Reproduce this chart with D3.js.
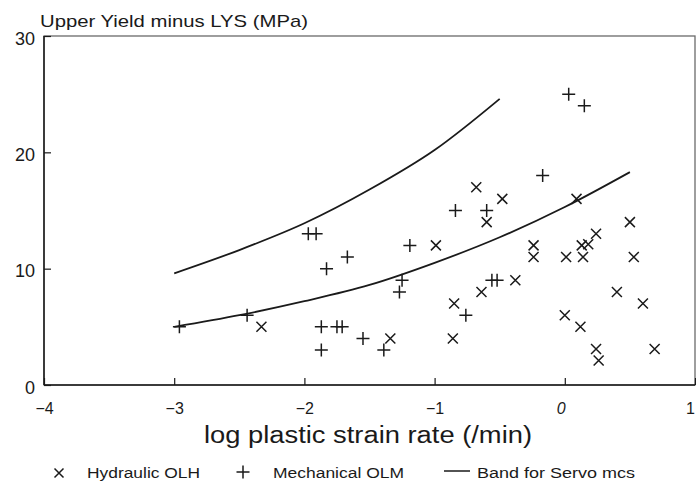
<!DOCTYPE html>
<html>
<head>
<meta charset="utf-8">
<script src="https://cdn.jsdelivr.net/npm/d3@7"></script>
<style>
  html, body { margin: 0; padding: 0; background: #fff; }
  svg { display: block; }
  text { font-family: "Liberation Sans", Arial, sans-serif; fill: #1a1a1a; }
</style>
</head>
<body>
<svg id="chart" width="696" height="484"></svg>
<script>
// ---- data ----
const xTicks = [-4, -3, -2, -1, 0, 1];
const yTicks = [0, 10, 20, 30];

// Hydraulic OLH (x markers): [log strain rate, MPa]
const hydraulicX = [-2.33, -1.34, -0.99, -0.68, -0.60, -0.48, -0.85, -0.86, -0.64, -0.38,
  -0.24, -0.24, 0.01, 0.13, 0.18, 0.14, 0.24, 0.50, 0.53, 0.40, 0.60, 0.00, 0.12, 0.24, 0.26, 0.69, 0.09];
const hydraulicY = [5, 4, 12, 17, 14, 16, 7, 4, 8, 9,
  12, 11, 11, 12, 12.1, 11, 13, 14, 11, 8, 7, 6, 5, 3.1, 2.1, 3.1, 16];

// Mechanical OLM (+ markers)
const mechanicalX = [-2.96, -2.44, -1.97, -1.91, -1.83, -1.67, -1.87, -1.75, -1.71, -1.87,
  -1.55, -1.39, -1.27, -1.25, -1.19, -0.84, -0.60, -0.76, -0.56, -0.52, -0.17, 0.03, 0.15];
const mechanicalY = [5, 6, 13, 13, 10, 11, 5, 5, 5, 3,
  4, 3, 8, 9, 12, 15, 15, 6, 9, 9, 18, 25, 24];

// Band for Servo mcs (two curves)
const bandUpperX = [-3, -2.5, -2, -1.5, -1, -0.5];
const bandUpperY = [9.6, 11.6, 13.9, 16.8, 20.2, 24.6];
const bandLowerX = [-3, -2.5, -2, -1.5, -1, -0.5, 0, 0.5];
const bandLowerY = [5.0, 6.0, 7.2, 8.6, 10.5, 12.7, 15.3, 18.3];

const legendLabels = ["Hydraulic OLH", "Mechanical OLM", "Band for Servo mcs"];

// ---- layout ----
const svg = d3.select("#chart");
const mLeft = 44, mRight = 695, mTop = 36, mBottom = 385;
const x = d3.scaleLinear().domain([-4, 1]).range([mLeft, mRight]);
const y = d3.scaleLinear().domain([0, 30]).range([mBottom, mTop]);
const ink = "#1a1a1a";

// frame
svg.append("rect").attr("x", mLeft).attr("y", mTop)
  .attr("width", mRight - mLeft).attr("height", mBottom - mTop)
  .attr("fill", "none").attr("stroke", "#6a6a6a").attr("stroke-width", 1.3);
svg.append("line").attr("x1", mLeft).attr("x2", mLeft).attr("y1", mTop).attr("y2", mBottom)
  .attr("stroke", ink).attr("stroke-width", 1.5);
svg.append("line").attr("x1", mLeft).attr("x2", mRight).attr("y1", mBottom).attr("y2", mBottom)
  .attr("stroke", ink).attr("stroke-width", 1.5);

// axes with inward ticks
const xAxis = d3.axisBottom(x).tickValues(xTicks).tickSize(-7).tickFormat(d3.format("d"));
const gx = svg.append("g").attr("transform", `translate(0,${mBottom})`).call(xAxis);
gx.select(".domain").remove();
gx.selectAll(".tick line").attr("stroke", ink).attr("stroke-width", 1.2);
gx.selectAll(".tick text").attr("y", 29).attr("dy", null)
  .attr("font-size", 16).attr("fill", ink)
  .style("font-family", "'Liberation Sans', Arial, sans-serif")
  .text(d => d < 0 ? "\u2212" + Math.abs(d) : String(d))
  .attr("font-style", d => d === 0 ? "italic" : null)
  .attr("dx", d => d === 0 ? -4 : (d === 1 ? -5 : 0));

const yAxis = d3.axisLeft(y).tickValues(yTicks).tickSize(-7).tickFormat(d3.format("d"));
const gy = svg.append("g").attr("transform", `translate(${mLeft},0)`).call(yAxis);
gy.select(".domain").remove();
gy.selectAll(".tick line").attr("stroke", ink).attr("stroke-width", 1.2);
gy.selectAll(".tick text").attr("x", -9).attr("dy", "0.45em")
  .attr("font-size", 18).attr("fill", ink)
  .style("font-family", "'Liberation Sans', Arial, sans-serif");

// title
svg.append("text").attr("x", 40).attr("y", 27)
  .attr("font-size", 17).attr("textLength", 268).attr("lengthAdjust", "spacingAndGlyphs")
  .text("Upper Yield minus LYS (MPa)");

// x axis title
svg.append("text").attr("x", 204).attr("y", 443)
  .attr("font-size", 23).attr("textLength", 328).attr("lengthAdjust", "spacingAndGlyphs")
  .text("log plastic strain rate (/min)");

// band curves
const line = d3.line().x(d => x(d[0])).y(d => y(d[1])).curve(d3.curveMonotoneX);
[[bandUpperX, bandUpperY], [bandLowerX, bandLowerY]].forEach(([xs, ys]) => {
  svg.append("path").datum(xs.map((v, i) => [v, ys[i]]))
    .attr("d", line).attr("fill", "none").attr("stroke", ink).attr("stroke-width", 1.8);
});

// markers
const xHalf = 5, pHalf = 6.5;
const hyd = hydraulicX.map((v, i) => [v, hydraulicY[i]]);
const mech = mechanicalX.map((v, i) => [v, mechanicalY[i]]);
function drawX(g, cx, cy, h) {
  g.append("path").attr("d", `M${cx - h},${cy - h}L${cx + h},${cy + h}M${cx - h},${cy + h}L${cx + h},${cy - h}`)
    .attr("stroke", ink).attr("stroke-width", 1.5).attr("fill", "none");
}
function drawPlus(g, cx, cy, h) {
  g.append("path").attr("d", `M${cx - h},${cy}L${cx + h},${cy}M${cx},${cy - h}L${cx},${cy + h}`)
    .attr("stroke", ink).attr("stroke-width", 1.5).attr("fill", "none");
}
const gm = svg.append("g");
hyd.forEach(d => drawX(gm, x(d[0]), y(d[1]), xHalf));
mech.forEach(d => drawPlus(gm, x(d[0]), y(d[1]), pHalf));

// legend
const ly = 473;
const gl = svg.append("g");
drawX(gl, 59, ly, 4.5);
gl.append("text").attr("x", 87).attr("y", ly + 5).attr("font-size", 14)
  .attr("textLength", 113).attr("lengthAdjust", "spacingAndGlyphs").text(legendLabels[0]);
drawPlus(gl, 243, ly - 1, 6.5);
gl.append("text").attr("x", 273).attr("y", ly + 5).attr("font-size", 14)
  .attr("textLength", 131).attr("lengthAdjust", "spacingAndGlyphs").text(legendLabels[1]);
gl.append("line").attr("x1", 444).attr("x2", 470).attr("y1", ly - 2).attr("y2", ly - 2)
  .attr("stroke", ink).attr("stroke-width", 1.5);
gl.append("text").attr("x", 477).attr("y", ly + 5).attr("font-size", 14)
  .attr("textLength", 158).attr("lengthAdjust", "spacingAndGlyphs").text(legendLabels[2]);
</script>
</body>
</html>
